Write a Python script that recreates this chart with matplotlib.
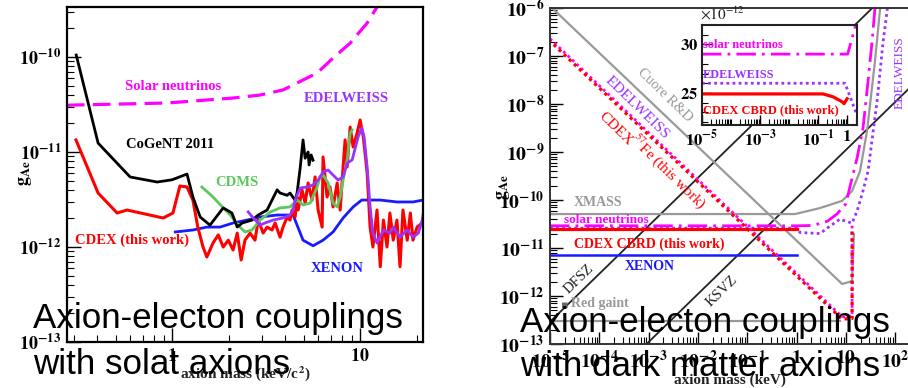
import numpy as np
import matplotlib
matplotlib.use('Agg')
import matplotlib.pyplot as plt
from matplotlib.ticker import FixedLocator, FuncFormatter, NullFormatter

plt.rcParams['mathtext.fontset'] = 'stix'
plt.rcParams['font.family'] = ['Liberation Serif', 'DejaVu Serif']

# ---------------- LEFT PANEL DATA (mass keV, g_Ae in units of 1e-12) ----------------
solarL_m = [0.276, 0.297, 0.94, 2.11, 2.94, 3.89, 5.91, 7.18, 8.85, 10.9, 12.3, 13.6]
solarL_g = [31.0, 31.2, 32.8, 37.0, 39.8, 45.0, 67.9, 97.6, 140, 228, 336, 507]

cogent_m = [0.309, 0.404, 0.598, 0.832, 1.0, 1.20, 1.29, 1.41, 1.59, 1.87, 2.08, 2.22, 2.36,
            2.66, 2.87, 3.20, 3.62, 3.75, 4.09, 4.24, 4.51, 4.62, 4.80, 4.97, 5.10, 5.29,
            5.35, 5.49, 5.62]
cogent_g = [105, 12.4, 5.46, 4.83, 5.1, 5.86, 3.36, 2.07, 1.70, 2.58, 2.28, 1.62, 1.79,
            1.92, 2.17, 2.45, 4.0, 3.70, 3.5, 3.7, 3.1, 3.7, 6.8, 13.4, 8.6, 10,
            7.3, 9.3, 8.2]

cdexL_m = [0.308, 0.404, 0.510, 0.576, 0.896, 1.01, 1.10, 1.20, 1.29, 1.37, 1.46, 1.53, 1.65,
           1.76, 1.87, 1.99, 2.11, 2.22, 2.33, 2.44, 2.60, 2.76, 2.87, 3.05, 3.20, 3.40,
           3.53, 3.75, 3.89, 4.09, 4.24, 4.35, 4.51, 4.62, 4.68, 4.91, 5.10, 5.29, 5.55,
           5.76, 5.98, 6.28, 6.35, 6.67, 6.92, 7.18, 7.55, 7.83, 8.12, 8.32, 8.53, 8.85,
           9.18, 9.64, 10.0, 10.4, 10.9, 11.3, 11.7, 12.3, 12.8, 13.3, 13.9, 14.4, 15.0,
           15.7, 16.3, 16.9, 17.8, 18.5, 19.1, 20.1, 21.4]
cdexL_g = [13.4, 3.70, 2.28, 2.45, 2.02, 2.28, 4.39, 4.28, 3.12, 1.62, 1.0, 0.785, 1.10,
           1.34, 1.0, 1.18, 0.93, 1.40, 0.73, 1.18, 1.40, 1.18, 1.92, 1.40, 1.62, 1.51,
           1.79, 1.27, 1.62, 2.07, 1.92, 2.45, 2.07, 3.36, 2.45, 3.98, 2.90, 4.72, 3.12,
           5.46, 2.45, 1.62, 8.86, 3.36, 4.28, 2.64, 4.72, 2.45, 6.95, 13.4, 6.95, 18.3,
           11.3, 15.8, 21.7, 14.4, 6.0, 1.62, 1.0, 2.45, 0.62, 1.92, 1.0, 2.28, 1.18,
           1.92, 0.62, 2.45, 1.18, 2.28, 1.18, 1.62, 1.79]

cdms_m = [1.44, 1.65, 1.85, 2.04, 2.24, 2.44, 2.66, 2.94, 3.32, 3.75, 4.24, 4.62, 4.97,
          5.42, 5.91, 6.12, 6.35, 6.76, 7.18, 7.55, 7.83, 8.12, 8.53, 8.85, 9.07]
cdms_g = [4.28, 3.36, 2.64, 2.17, 1.70, 1.44, 1.51, 1.92, 2.33, 2.58, 2.64, 3.12, 2.77,
          2.90, 4.28, 5.46, 5.72, 4.72, 2.90, 2.64, 3.36, 5.07, 8.24, 15.8, 17.1]

edelL_m = [2.54, 2.70, 2.94, 3.12, 3.44, 3.89, 4.24, 4.40, 4.51, 4.80, 5.22, 5.62, 5.98,
           6.35, 6.76, 7.18, 7.64, 8.12, 8.53, 9.07, 9.76, 10.2, 10.5, 10.9, 11.3, 11.7,
           12.3, 13.3, 14.4, 15.0, 16.3, 17.8, 19.1, 20.4, 21.4, 21.6]
edelL_g = [2.34, 2.02, 1.70, 1.79, 1.92, 2.02, 2.17, 2.45, 3.12, 4.18, 4.28, 4.50, 5.07,
           6.16, 6.46, 5.72, 5.07, 5.46, 7.66, 8.24, 14.4, 17.9, 14.4, 6.95, 2.64, 1.40,
           1.10, 1.51, 1.40, 1.62, 1.27, 1.51, 1.27, 1.40, 1.92, 2.17]

xenonL_m = [1.04, 1.29, 1.53, 1.80, 2.11, 2.50, 2.94, 3.62, 4.40, 4.62, 4.97, 5.62, 6.35,
            7.18, 8.12, 9.18, 10.2, 12.8, 15.7, 19.1, 21.6]
xenonL_g = [1.44, 1.51, 1.62, 1.62, 1.79, 1.92, 2.07, 2.17, 2.17, 1.70, 1.18, 1.03, 1.18,
            1.44, 2.02, 2.64, 3.12, 3.12, 2.98, 2.98, 3.12]

# ---------------- RIGHT PANEL DATA (mass keV, g_Ae) ----------------
cuore_m = [1e-5, 8.4, 13.4, 14.6]
cuore_g = [1.1e-6, 1.78e-12, 2.05e-12, 1.95e-11]

xmass_m = [1e-5, 0.93, 1.18, 3.0, 8.4, 13.4, 19.4, 26.9, 39.0, 49.0, 52.0]
xmass_g = [5.1e-11, 5.1e-11, 5.4e-11, 6.8e-11, 9.6e-11, 1.55e-10, 4.0e-10, 2.74e-9, 7.9e-8, 8.7e-7, 1.4e-6]

solarR_m = [1e-5, 1.0, 2.16, 4.2, 6.6, 10.0, 12.2, 16.9, 22.3, 28.2, 34.0, 39.0, 41.0]
solarR_g = [2.9e-11, 2.9e-11, 2.95e-11, 3.6e-11, 5.1e-11, 8.3e-11, 1.95e-10, 7.5e-10, 3.16e-9,
            3.0e-8, 2.0e-7, 1.0e-6, 1.5e-6]

edelR_m = [1e-5, 1.0, 1.18, 3.0, 4.2, 7.6, 10.0, 13.4, 16.9, 22.3, 28.2, 43.0, 57.0, 68.5, 72.0]
edelR_g = [2.6e-11, 2.6e-11, 2.1e-11, 2.0e-11, 2.6e-11, 4.0e-11, 3.6e-11, 3.3e-11, 5.9e-11,
           1.55e-10, 4.0e-10, 1.15e-8, 2.0e-7, 8.6e-7, 1.4e-6]

fe57_m = [1e-5, 8.4, 13.4, 13.4]
fe57_g = [2.05e-7, 3.3e-13, 3.4e-13, 2.6e-11]

cbrd_m = [1e-5, 1.0]
cbrd_g = [2.5e-11, 2.5e-11]

xenonR_m = [1e-5, 1.0]
xenonR_g = [7.0e-12, 7.0e-12]

redgiant_m = [1e-5, 7.5]
redgiant_g = [3.0e-13, 3.0e-13]

dfsz_m = [1e-5, 200.0]
dfsz_g = [2.9e-13, 5.8e-6]

ksvz_m = [9e-4, 200.0]
ksvz_g = [9.9e-14, 2.2e-8]

# inset (g in units of 1e-12)
in_solar_m = [1e-5, 1.05, 2.2]
in_solar_g = [29.0, 29.0, 32.5]
in_edel_m = [1e-5, 0.85, 2.2]
in_edel_g = [26.0, 26.0, 22.7]
in_cdex_m = [1e-5, 0.149, 0.33, 0.67, 0.79, 1.0]
in_cdex_g = [24.9, 24.9, 24.6, 24.1, 23.9, 24.4]

# ---------------- STYLE ----------------
MAG = '#ff00ff'
PUR = '#9933ff'
RED = '#ff0000'
GRN = '#5cc85c'
BLU = '#1a1aff'
GRY = '#999999'

W, H = 908, 388
fig = plt.figure(figsize=(W / 100, H / 100), dpi=100)


def fx(px):
    return px / W


def fy(py):
    return 1 - py / H


def ptext(px, py, s, **kw):
    fig.text(fx(px), fy(py), s, ha=kw.pop('ha', 'center'), va=kw.pop('va', 'center'), **kw)


def pow_fmt(v, pos):
    e = int(round(np.log10(v)))
    if e == 0:
        return r'$\mathbf{1}$'
    if e == 1:
        return r'$\mathbf{10}$'
    return r'$\mathbf{10^{%d}}$' % e


# ---------------- LEFT AXES ----------------
axL = fig.add_axes([fx(67), fy(342), (423 - 67) / W, (342 - 7) / H])
axL.set_xscale('log')
axL.set_yscale('log')
axL.set_xlim(0.276, 21.6)
axL.set_ylim(1e-13, 3.36e-10)

s = 1e-12
axL.plot(solarL_m, np.array(solarL_g) * s, color=MAG, lw=2.3, ls=(0, (5.5, 2.6)))
axL.plot(xenonL_m, np.array(xenonL_g) * s, color=BLU, lw=2.0)
axL.plot(cdexL_m, np.array(cdexL_g) * s, color=RED, lw=2.2)
axL.plot(cdms_m, np.array(cdms_g) * s, color=GRN, lw=2.0)
axL.plot(cogent_m, np.array(cogent_g) * s, color='black', lw=2.0)
axL.plot(edelL_m, np.array(edelL_g) * s, color=PUR, lw=2.0)

for sp in axL.spines.values():
    sp.set_linewidth(1.6)
axL.yaxis.set_major_locator(FixedLocator([1e-13, 1e-12, 1e-11, 1e-10]))
axL.yaxis.set_major_formatter(FuncFormatter(pow_fmt))
axL.yaxis.set_minor_locator(FixedLocator([k * 10.0 ** e for e in range(-13, -9) for k in range(2, 10)]))
axL.yaxis.set_minor_formatter(NullFormatter())
axL.xaxis.set_major_locator(FixedLocator([1, 10]))
axL.xaxis.set_major_formatter(FuncFormatter(pow_fmt))
axL.xaxis.set_minor_locator(FixedLocator([k * 10.0 ** e for e in range(-1, 2) for k in range(2, 10)]))
axL.xaxis.set_minor_formatter(NullFormatter())
axL.tick_params(which='both', direction='in', top=False, right=False, labelsize=13)
axL.tick_params(which='major', length=10, width=1.0, pad=4)
axL.tick_params(which='minor', length=5, width=0.8)

# left labels
fs = 10.5
ptext(173, 87, 'Solar neutrinos', color=MAG, fontsize=fs, fontweight='bold')
ptext(346, 98, 'EDELWEISS', color=PUR, fontsize=fs, fontweight='bold')
ptext(170, 145, 'CoGeNT 2011', color='black', fontsize=fs, fontweight='bold')
ptext(237, 182, 'CDMS', color=GRN, fontsize=fs, fontweight='bold')
ptext(132, 240, 'CDEX (this work)', color=RED, fontsize=fs, fontweight='bold')
ptext(337, 268, 'XENON', color=BLU, fontsize=fs, fontweight='bold')
ptext(25, 173, r'$\mathbf{g_{Ae}}$', rotation=90, fontsize=13)
ptext(245, 374, r'axion mass (keV/c$^{\mathbf{2}}$)', fontsize=11, fontweight='bold', color='#222222')

# ---------------- RIGHT AXES ----------------
axR = fig.add_axes([fx(550), fy(344), 360 / W, 336 / H])
axR.set_xscale('log')
axR.set_yscale('log')
axR.set_xlim(1e-5, 200)
axR.set_ylim(1e-13, 1e-6)

axR.plot(redgiant_m, redgiant_g, color=GRY, lw=1.6)
axR.plot(dfsz_m, dfsz_g, color='#222222', lw=1.3)
axR.plot(ksvz_m, ksvz_g, color='#222222', lw=1.3)
axR.plot(cuore_m, cuore_g, color=GRY, lw=1.6)
axR.plot(xmass_m, xmass_g, color=GRY, lw=1.6)
axR.plot(xenonR_m, xenonR_g, color=BLU, lw=1.8)
axR.plot(edelR_m, edelR_g, color=PUR, lw=2.0, ls=(0, (1, 1.2)))
axR.plot(solarR_m, solarR_g, color=MAG, lw=2.0, ls=(0, (7, 2.2, 1, 2.2)))
axR.plot(cbrd_m, cbrd_g, color=RED, lw=2.3)
axR.plot(fe57_m, np.array(fe57_g) * 1.12, color=MAG, lw=2.0, ls=(0, (1, 1.2)))
axR.plot(fe57_m, fe57_g, color=RED, lw=2.3, ls=(0.6, (1, 1.2)))

for sp in axR.spines.values():
    sp.set_linewidth(1.4)
    sp.set_color('#333333')
axR.yaxis.set_major_locator(FixedLocator([10.0 ** e for e in range(-13, -5)]))
axR.yaxis.set_major_formatter(FuncFormatter(pow_fmt))
axR.yaxis.set_minor_locator(FixedLocator([k * 10.0 ** e for e in range(-13, -6) for k in range(2, 10)]))
axR.yaxis.set_minor_formatter(NullFormatter())
axR.xaxis.set_major_locator(FixedLocator([10.0 ** e for e in range(-5, 3)]))
axR.xaxis.set_major_formatter(FuncFormatter(pow_fmt))
axR.xaxis.set_minor_locator(FixedLocator([k * 10.0 ** e for e in range(-5, 3) for k in range(2, 10)]))
axR.xaxis.set_minor_formatter(NullFormatter())
axR.tick_params(which='both', direction='in', top=False, right=False, labelsize=14)
axR.tick_params(which='major', length=9, width=1.0, pad=4)
axR.tick_params(which='minor', length=5, width=0.8)

ang = -44.2
ptext(665, 95, 'Cuore R&D', color=GRY, fontsize=10.5, rotation=ang)
ptext(637, 108, 'EDELWEISS', color=PUR, fontsize=11, rotation=ang)
ptext(616, 129, 'CDEX', color=RED, fontsize=11, rotation=ang)
ptext(668, 172, r'$^{57}$Fe (this work)', color=RED, fontsize=11, rotation=ang)
ptext(598, 203, 'XMASS', color=GRY, fontsize=10, fontweight='bold')
ptext(606, 220, 'solar neutrinos', color=MAG, fontsize=9.5, fontweight='bold')
ptext(649, 244, 'CDEX CBRD (this work)', color=RED, fontsize=10, fontweight='bold')
ptext(650, 267, 'XENON', color=BLU, fontsize=10, fontweight='bold')
ptext(579, 279, 'DFSZ', color='#222222', fontsize=10.5, rotation=44.2)
ptext(722, 291, 'KSVZ', color='#222222', fontsize=10.5, rotation=44.2)
ptext(600, 304, 'Red gaint', color=GRY, fontsize=10, fontweight='bold')
ptext(565, 305, '\u25aa', color='#666666', fontsize=8, family=['DejaVu Sans'])
ptext(900, 73, 'EDELWEISS', color=PUR, fontsize=9.5, rotation=90)
ptext(503, 187, r'$\mathbf{g_{Ae}}$', rotation=90, fontsize=13)
ptext(730, 380, 'axion mass (keV)', fontsize=11, fontweight='bold', color='#222222')

# ---------------- INSET ----------------
axI = fig.add_axes([fx(702), fy(125), (857 - 702) / W, (125 - 25) / H])
axI.set_facecolor('white')
axI.set_xscale('log')
axI.set_xlim(1e-5, 2.2)
axI.set_ylim(21.7, 32.0)
axI.plot(in_solar_m, in_solar_g, color=MAG, lw=2.0, ls=(0, (7, 2.2, 1, 2.2)))
axI.plot(in_edel_m, in_edel_g, color=PUR, lw=2.0, ls=(0, (1, 1.2)))
axI.plot(in_cdex_m, in_cdex_g, color=RED, lw=2.3)
for sp in axI.spines.values():
    sp.set_linewidth(1.5)
    sp.set_color('#222222')
axI.yaxis.set_major_locator(FixedLocator([25, 30]))
axI.yaxis.set_major_formatter(FuncFormatter(lambda v, p: r'$\mathbf{%d}$' % v))
axI.yaxis.set_minor_locator(FixedLocator([22, 23, 24, 26, 27, 28, 29, 31]))
axI.yaxis.set_minor_formatter(NullFormatter())
axI.xaxis.set_major_locator(FixedLocator([1e-5, 1e-3, 1e-1, 1]))
axI.xaxis.set_major_formatter(FuncFormatter(pow_fmt))
axI.xaxis.set_minor_locator(FixedLocator([k * 10.0 ** e for e in range(-5, 1) for k in range(1, 10)
                                          if not (k == 1 and e in (-5, -3, -1, 0))]))
axI.xaxis.set_minor_formatter(NullFormatter())
axI.tick_params(which='both', direction='in', top=False, right=False, labelsize=12)
axI.tick_params(which='major', length=7, width=1.0, pad=3)
axI.tick_params(which='minor', length=4, width=0.8)

ptext(703, 45, 'solar neutrinos', color=MAG, fontsize=9, fontweight='bold', ha='left')
ptext(703, 75, 'EDELWEISS', color=PUR, fontsize=8.8, fontweight='bold', ha='left')
ptext(703, 110, 'CDEX CBRD (this work)', color=RED, fontsize=9, fontweight='bold', ha='left')
ptext(700, 14, r'$\times10^{-12}$', fontsize=11, ha='left', color='#222222')

# ---------------- OVERLAY TITLES ----------------
big = dict(fontsize=25.2, family=['Liberation Sans', 'DejaVu Sans'], color='black',
           ha='left', va='baseline', zorder=10)
ptext(33, 328, 'Axion-electon couplings', **big)
ptext(33, 374, 'with solat axions', **big)
ptext(520, 332, 'Axion-electon couplings', **big)
ptext(520, 376, 'with dark matter axions', **big)

fig.savefig('out.png', dpi=100)
